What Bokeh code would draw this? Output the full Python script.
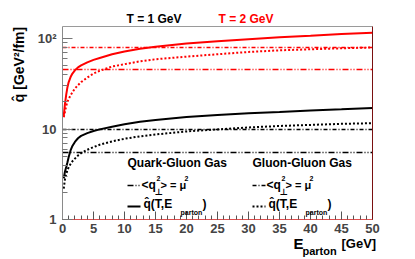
import math
from bokeh.plotting import figure
from bokeh.models import Label, FixedTicker, Range1d, LogAxis, LinearAxis
from bokeh.embed import file_html
from bokeh.resources import INLINE

# ---- data ----
E = [0.2, 0.4, 0.6, 0.8, 1.0, 1.3, 1.6, 2, 2.5, 3, 4, 5, 6, 8, 10, 12.5, 15, 20, 25, 30, 35, 40, 45, 50]
qhat_T1_qg = [2.85, 3.4, 3.8, 4.3, 4.9, 5.8, 6.5, 7.2, 7.9, 8.4, 9.0, 9.5, 9.9, 10.6, 11.3, 12.0, 12.6, 13.6, 14.3, 14.9, 15.4, 16.0, 16.5, 17.1]
qhat_T1_gg = [2.2, 2.8, 3.2, 3.5, 3.8, 4.1, 4.4, 4.7, 5.1, 5.4, 5.9, 6.3, 6.7, 7.3, 7.8, 8.3, 8.7, 9.4, 9.9, 10.4, 10.8, 11.1, 11.4, 11.6]
qhat_T2_qg = [14, 19, 24, 29, 33, 37.5, 41, 44.5, 48, 50.5, 54.5, 58, 61, 67, 72, 77, 81, 88, 93, 98, 103, 107, 112, 116]
qhat_T2_gg = [13.5, 15.5, 18, 20, 21.5, 23.5, 25.5, 28, 30.5, 33, 37, 41, 44, 49, 52, 56, 59, 63, 67, 71, 74, 76, 78, 79.5]
mu2_T1 = [5.5, 9.9]     # quark-gluon, gluon-gluon  (<q_perp^2> = mu^2)
mu2_T2 = [45.3, 79.4]
x_ticks = [0, 5, 10, 15, 20, 25, 30, 35, 40, 45, 50]
y_ticks = [1, 10, 100]
y_tick_labels = {1: "1", 10: "10", 100: "10\u00b2"}
x_min, x_max = 0, 50
y_min, y_max = 1, 135.8

FONT = "Liberation Sans"
RED = "#ff0000"
QG_DASH = "6 2 1 2 1 2"
GG_DASH = "4 2 1 2"
DOT = "2 2"

W, H = 415, 259
# plot box in pixels: left 62, right 372, bottom 219 (y=1), 90.5 px per decade
PX0, PXS, PY0, PDEC = 62.0, 6.2, 219.0, 90.5
xr = Range1d(-PX0 / PXS, (W - PX0) / PXS)
yr = Range1d(10 ** (-(H - PY0) / PDEC), 10 ** (PY0 / PDEC))

p = figure(width=W, height=H, x_range=xr, y_range=yr, y_axis_type="log",
           output_backend="svg", toolbar_location=None,
           min_border=0, min_border_left=0, min_border_right=0, min_border_top=0, min_border_bottom=0)
p.background_fill_color = "white"
p.border_fill_color = "white"
p.outline_line_color = None
p.xgrid.visible = False
p.ygrid.visible = False

xa = p.xaxis[0]
xa.fixed_location = y_min
xa.bounds = (x_min, x_max)
xa.ticker = FixedTicker(ticks=x_ticks, minor_ticks=list(range(0, 51)))
xa.major_tick_in = 8
xa.major_tick_out = 0
xa.minor_tick_in = 4
xa.minor_tick_out = 0
xa.axis_line_color = "#e05050"
xa.major_tick_line_color = "#555555"
xa.minor_tick_line_color = "#555555"
xa.major_label_text_font = FONT
xa.major_label_text_font_style = "bold"
xa.major_label_text_font_size = "13px"
xa.major_label_standoff = 4

ya = p.yaxis[0]
ya.fixed_location = x_min
ya.bounds = (y_min, y_max)
minor_y = [2, 3, 4, 5, 6, 7, 8, 9, 20, 30, 40, 50, 60, 70, 80, 90]
ya.ticker = FixedTicker(ticks=y_ticks, minor_ticks=minor_y)
ya.major_label_overrides = y_tick_labels
ya.major_tick_in = 10
ya.major_tick_out = 0
ya.minor_tick_in = 5
ya.minor_tick_out = 0
ya.axis_line_color = "#8a8a8a"
ya.major_tick_line_color = "#777777"
ya.minor_tick_line_color = "#777777"
ya.major_label_text_font = FONT
ya.major_label_text_font_style = "bold"
ya.major_label_text_font_size = "13px"
ya.major_label_standoff = 6

ra = LogAxis(fixed_location=x_max, bounds=(y_min, y_max), axis_line_color="#7a1010",
             major_tick_line_color=None, minor_tick_line_color=None,
             major_label_text_font_size="0px", ticker=FixedTicker(ticks=[]))
p.add_layout(ra, "right")
ta = LinearAxis(fixed_location=y_max, bounds=(x_min, x_max), axis_line_color="#9a9a9a",
                major_tick_line_color=None, minor_tick_line_color=None,
                major_label_text_font_size="0px", ticker=FixedTicker(ticks=[]))
p.add_layout(ta, "above")

# horizontal <q^2> = mu^2 lines
for val, dash in zip(mu2_T1, [QG_DASH, GG_DASH]):
    p.line([x_min, x_max], [val, val], line_color="black", line_width=1.5, line_dash=dash)
for val, dash in zip(mu2_T2, [QG_DASH, GG_DASH]):
    p.line([x_min, x_max], [val, val], line_color=RED, line_width=1.5, line_dash=dash)

p.line(E, qhat_T1_qg, line_color="black", line_width=2)
p.line(E, qhat_T1_gg, line_color="black", line_width=2, line_dash=DOT)
p.line(E, qhat_T2_qg, line_color=RED, line_width=2)
p.line(E, qhat_T2_gg, line_color=RED, line_width=2, line_dash=DOT)

# screen-pixel -> data helper for annotation placement
def P(px, py):
    return (px - PX0) / PXS, 10 ** ((PY0 - py) / PDEC)

def txt(s, px, py, size, color="black", align="left", angle=0, font=FONT, style="bold"):
    x, y = P(px, py)
    p.add_layout(Label(x=x, y=y, text=s, text_font=font, text_font_style=style,
                       text_font_size=f"{size}px", text_color=color, text_align=align,
                       text_baseline="middle", angle=angle))

def seg(px0, px1, py, dash, color="black", width=1.5):
    x0, y = P(px0, py)
    x1, _ = P(px1, py)
    p.line([x0, x1], [y, y], line_color=color, line_width=width, line_dash=dash)

# headers
txt("T = 1 GeV", 126, 18, 12)
txt("T = 2 GeV", 218, 18, 12, color=RED)

# axis titles
txt("q\u0302 [GeV\u00b2/fm]", 18, 64, 14, align="center", angle=math.pi / 2)
txt("E", 293, 243, 15)
txt("parton", 302, 250, 11)
txt("[GeV]", 341, 243, 13)

# legend
for dx, head, dash1, dash2 in [(0, "Quark-Gluon Gas", QG_DASH, "solid"), (125, "Gluon-Gluon Gas", GG_DASH, DOT)]:
    txt(head, 127 + dx, 162, 12)
    seg(127 + dx, 140 + dx, 185, dash1, width=1.5)
    txt("<q", 141 + dx, 184, 12)
    txt("2", 156 + dx, 178, 7)
    txt("\u22a5", 154 + dx, 191, 9, font="DejaVu Sans")
    txt("> = \u03bc", 160 + dx, 184, 11)
    txt("2", 184 + dx, 178, 7)
    seg(127 + dx, 140 + dx, 206, dash2, width=2)
    txt("q\u0302(T,E", 143 + dx, 203, 12)
    txt("parton", 180 + dx, 212, 7)
    txt(")", 202 + dx, 203, 12)

open("out.html", "w").write(file_html(p, INLINE))
